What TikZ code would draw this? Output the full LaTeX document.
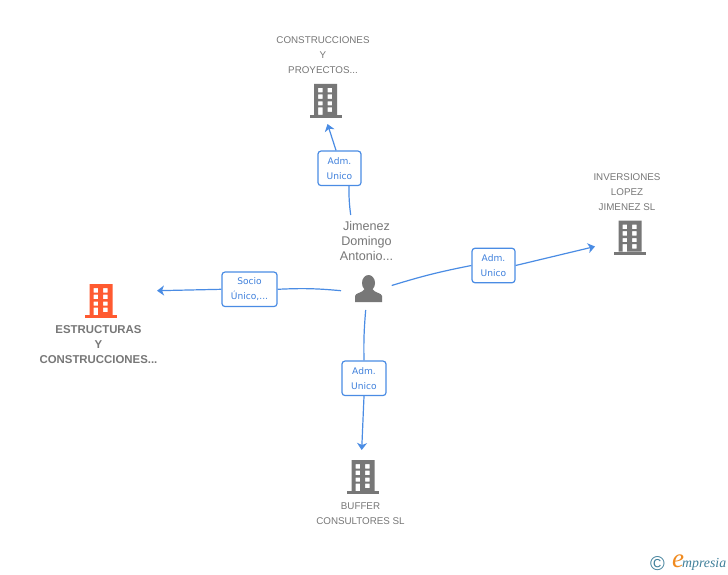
\documentclass[tikz,border=0pt]{standalone}
\usepackage{fontspec}
\setmainfont{Liberation Sans}
\newfontfamily\boxfont{DejaVu Sans}
\newfontfamily\logofont{Liberation Serif}
\usetikzlibrary{arrows.meta}
\definecolor{linkblue}{HTML}{4A8CE4}
\definecolor{boxblue}{HTML}{3F80DC}
\definecolor{labelgray}{HTML}{777777}
\definecolor{iconorange}{HTML}{FF5A30}
\definecolor{logoteal}{HTML}{3F7F9A}
\definecolor{logoorange}{HTML}{F08A1E}
\tikzset{
	firmname/.style={text=labelgray, font=\fontsize{9.8}{15}\selectfont, align=center, inner sep=0pt}
}
\tikzset{
	boldname/.style={firmname, font=\fontsize{11.4}{15}\selectfont\bfseries}
}
\tikzset{
	personname/.style={firmname, font=\fontsize{12.6}{15}\selectfont}
}
\tikzset{
	role/.style={draw=linkblue, fill=white, rounded corners=3pt, line width=1.2pt, text=boxblue,
	font=\boxfont\fontsize{9.1}{15}\selectfont, align=center, inner sep=0pt}
}
\tikzset{
	link/.style={draw=linkblue, line width=1.2pt}
}
\tikzset{
	linkend/.style={link, -{Stealth[length=7pt, width=10pt, inset=2pt]}}
}
\tikzset{
	pics/building/.style={code={
		\fill[#1, even odd rule] (-11.5,-3) rectangle (11.5,-34)
			(-7.5,-30) rectangle (-3,-25.5) (2,-30) rectangle (6.5,-25.5)
			(-7.5,-23.5) rectangle (-3,-19) (2,-23.5) rectangle (6.5,-19)
			(-7.5,-16.5) rectangle (-3,-12.5) (2,-16.5) rectangle (6.5,-12.5)
			(-7.5,-10.5) rectangle (-3,-3) (2,-10.5) rectangle (6.5,-6);
		\fill[#1] (-16,-3) rectangle (16,0);
	}}
}
\tikzset{
	pics/person/.style={code={
		\fill[labelgray] (0,-19) ellipse (6.5 and 8);
		\fill[labelgray] (-13.5,0) -- (-13.5,-6) .. controls (-13.5,-9) and (-6,-9) .. (-4,-13)
			-- (4,-13) .. controls (6,-9) and (13.5,-9) .. (13.5,-6) -- (13.5,0) -- cycle;
	}}
}

\begin{document}
\begin{tikzpicture}[x=1pt, y=-1pt]
	\useasboundingbox[fill=white] (0,0) rectangle (728,575);

	\pic (estructuras) at (101,318) {building=iconorange};
	\pic (construcciones) at (325.5,118) {building=labelgray};
	\pic (inversiones) at (630,254.5) {building=labelgray};
	\pic (buffer) at (363,494) {building=labelgray};
	\pic (jimenez) at (368.5,302) {person};

	\node (estructuras name) [boldname] at (98.5,345) {ESTRUCTURAS\\Y\\CONSTRUCCIONES...};
	\node (construcciones name) [firmname] at (323,55) {CONSTRUCCIONES\\Y\\PROYECTOS...};
	\node (inversiones name) [firmname] at (627,192) {INVERSIONES\\LOPEZ\\JIMENEZ SL};
	\node (buffer name) [firmname] at (360.5,513.5) {BUFFER\\CONSULTORES SL};
	\node (jimenez name) [personname] at (366.5,241) {Jimenez\\Domingo\\Antonio...};

	\node (adm top) [role, minimum width=43pt, minimum height=34.5pt] at (339.5,168.3) {Adm.\\Unico};
	\node (socio) [role, minimum width=55pt, minimum height=34.5pt] at (249.5,289.3) {Socio\\Único,...};
	\node (adm right) [role, minimum width=43pt, minimum height=34.5pt] at (493.5,265.5) {Adm.\\Unico};
	\node (adm bottom) [role, minimum width=44pt, minimum height=34.5pt] at (364,378.3) {Adm.\\Unico};

	\coordinate (top start) at (350.7,215);
	\coordinate (top tip) at (327.5,124);
	\coordinate (left start) at (341,290.7);
	\coordinate (left tip) at (157,290.7);
	\coordinate (right start) at (391.7,285.5);
	\coordinate (right tip) at (595,246.5);
	\coordinate (bottom start) at (365.7,310);
	\coordinate (bottom tip) at (361.7,450);

	\draw[link] (top start) to[bend left=4] (adm top.-62);
	\draw[linkend] (adm top.101) -- (top tip);
	\draw[link] (left start) to[bend right=4] (socio.east);
	\draw[linkend] (socio.west) -- (left tip);
	\draw[link] (right start) to[bend left=3] (adm right.west);
	\draw[linkend] (adm right.east) -- (right tip);
	\draw[link] (bottom start) to[bend right=3] (adm bottom.north);
	\draw[linkend] (adm bottom.south) -- (bottom tip);

	\node (copyright) [text=logoteal, font=\fontsize{20}{20}\selectfont, inner sep=0pt] at (657.5,564) {©};
	\node (logo e) [text=logoorange, font=\logofont\itshape\fontsize{27}{27}\selectfont, inner sep=0pt] at (678,561) {e};
	\node (logo) [text=logoteal, font=\logofont\itshape\fontsize{13.8}{13.8}\selectfont, inner sep=0pt, anchor=west] at (682,564) {mpresia};
\end{tikzpicture}
\end{document}
